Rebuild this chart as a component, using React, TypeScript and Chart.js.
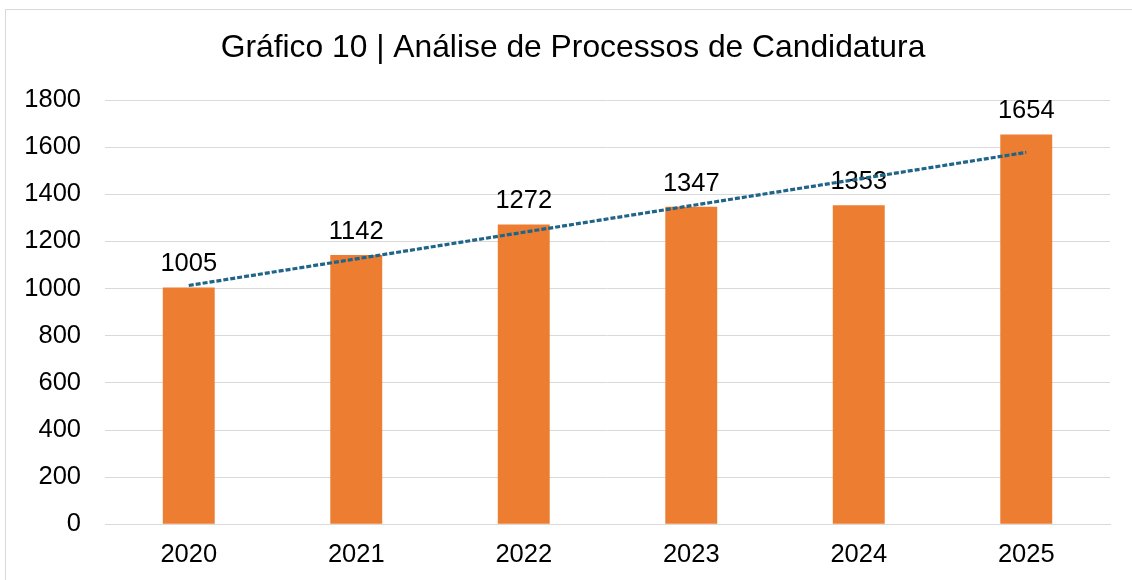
import React, { useEffect, useRef } from "react";
import { Chart, registerables } from "chart.js";

Chart.register(...registerables);

const categories = ["2020", "2021", "2022", "2023", "2024", "2025"];
const candidaturas = [1005, 1142, 1272, 1347, 1353, 1654];
const titleText = "Gráfico 10 | Análise de Processos de Candidatura";

// Linear trendline (least squares) from the bar values, as in the original spreadsheet chart
function linearTrend(values: number[]): number[] {
  const n = values.length;
  const mx = (n - 1) / 2;
  const my = values.reduce((a, b) => a + b, 0) / n;
  let num = 0;
  let den = 0;
  values.forEach((v, i) => {
    num += (i - mx) * (v - my);
    den += (i - mx) * (i - mx);
  });
  const slope = num / den;
  return values.map((_, i) => my + slope * (i - mx));
}

const FONT = "'Liberation Sans', Arial, sans-serif";
const TICK_SIZE = 25.5;

const labelPlugin = {
  id: "barLabels",
  afterDatasetDraw(chart: any, args: any) {
    if (args.index !== 0) return;
    const ctx = chart.ctx;
    const meta = chart.getDatasetMeta(0);
    ctx.save();
    ctx.font = `${TICK_SIZE}px ${FONT}`;
    ctx.fillStyle = "#000000";
    ctx.textAlign = "center";
    ctx.textBaseline = "alphabetic";
    meta.data.forEach((el: any, i: number) => {
      ctx.fillText(String(candidaturas[i]), el.x, el.y - 16);
    });
    ctx.restore();
  },
};

const titlePlugin = {
  id: "centeredTitle",
  afterDraw(chart: any) {
    const ctx = chart.ctx;
    ctx.save();
    ctx.font = `31.8px ${FONT}`;
    ctx.fillStyle = "#000000";
    ctx.textAlign = "center";
    ctx.textBaseline = "middle";
    ctx.fillText(titleText, 567, 38);
    ctx.restore();
  },
};

export default function App() {
  const ref = useRef<HTMLCanvasElement | null>(null);

  useEffect(() => {
    if (!ref.current) return;
    const chart = new Chart(ref.current, {
      type: "bar",
      data: {
        labels: categories,
        datasets: [
          {
            type: "bar",
            label: "Candidaturas",
            data: candidaturas,
            backgroundColor: "#ED7D31",
            barPercentage: 0.31,
            categoryPercentage: 1,
            order: 1,
          },
          {
            type: "line",
            label: "Tendência",
            data: linearTrend(candidaturas),
            borderColor: "#1F6489",
            borderWidth: 3.2,
            borderDash: [5, 2],
            borderCapStyle: "butt",
            pointRadius: 0,
            fill: false,
            tension: 0,
            order: 0,
          },
        ] as any,
      },
      options: {
        animation: false,
        responsive: false,
        maintainAspectRatio: false,
        layout: { padding: { left: 0, right: 24, top: 90, bottom: 10.7 } },
        plugins: {
          legend: { display: false },
          tooltip: { enabled: false },
          title: { display: false },
        },
        scales: {
          x: {
            grid: { display: false, drawTicks: false },
            border: { display: true, color: "#D9D9D9", width: 1 },
            ticks: {
              color: "#000000",
              font: { family: FONT, size: TICK_SIZE },
              padding: 15.7,
            },
          },
          y: {
            min: 0,
            max: 1800,
            ticks: {
              stepSize: 200,
              color: "#000000",
              font: { family: FONT, size: TICK_SIZE },
              padding: 24,
              callback: (v: any) => String(v),
            },
            grid: { color: "#D9D9D9", lineWidth: 1, drawTicks: false },
            border: { display: false },
            afterFit: (scale: any) => {
              scale.width = 99;
            },
          },
        },
      } as any,
      plugins: [labelPlugin, titlePlugin],
    });
    return () => chart.destroy();
  }, []);

  return (
    <div
      style={{
        position: "fixed",
        left: 5,
        top: 9,
        width: 1128,
        height: 600,
        border: "1px solid #D9D9D9",
        background: "#FFFFFF",
      }}
    >
      <canvas ref={ref} width={1128} height={587} style={{ display: "block" }} />
    </div>
  );
}
